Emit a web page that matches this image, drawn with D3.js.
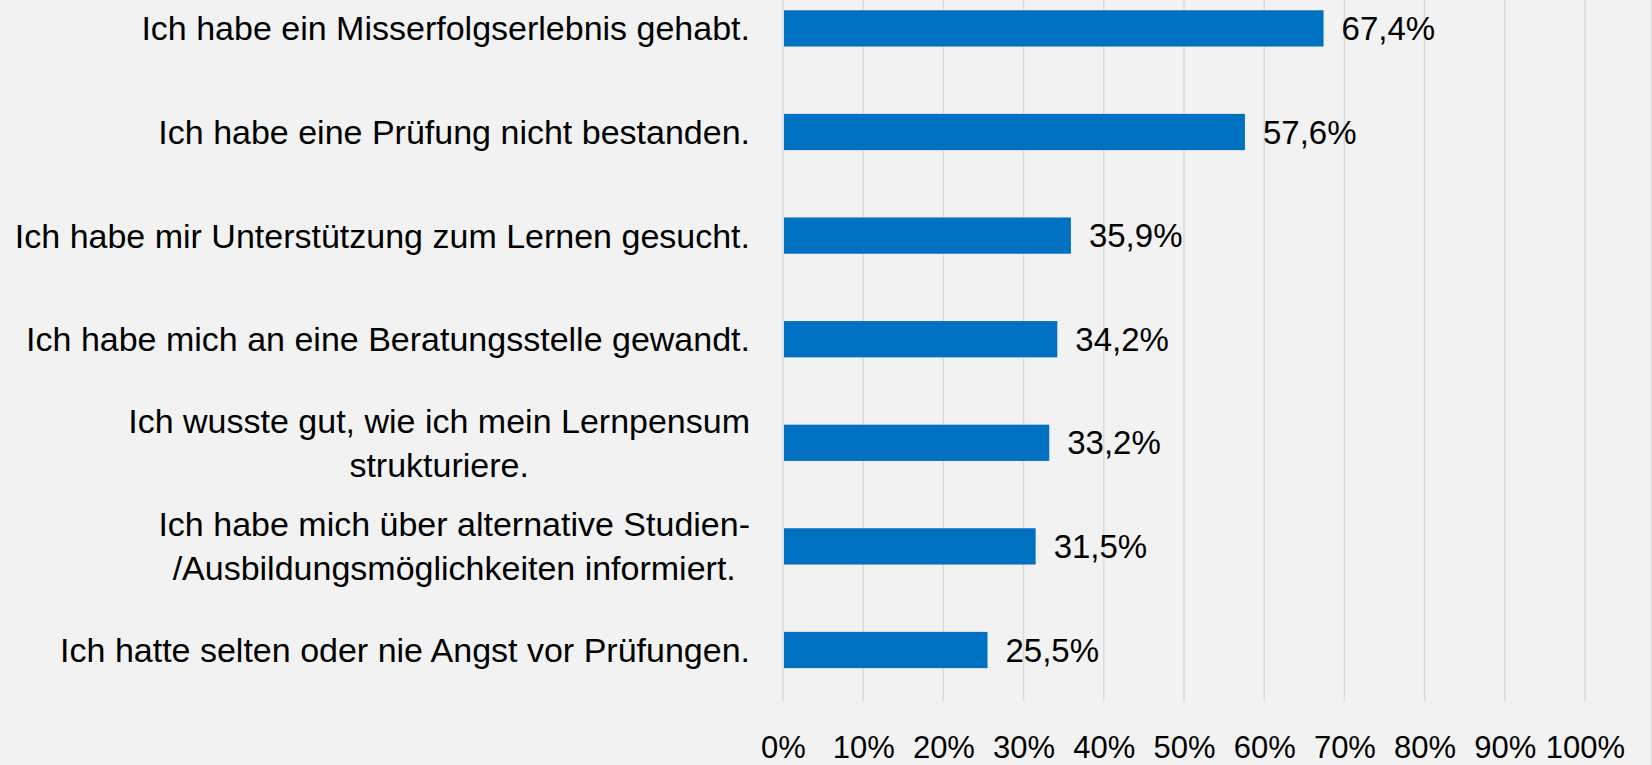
<!DOCTYPE html>
<html>
<head>
<meta charset="utf-8">
<script src="https://cdn.jsdelivr.net/npm/d3@7"></script>
<style>
  html, body { margin: 0; padding: 0; background: #f2f2f2; }
  svg { display: block; }
  text { font-family: "Liberation Sans", Arial, sans-serif; fill: #000; }
</style>
</head>
<body>
<svg id="chart" width="1652" height="765"></svg>
<script>
// Kategorien (Zeilenumbrüche wie im Original)
const categories = [
    ['Ich habe ein Misserfolgserlebnis gehabt.'],
    ['Ich habe eine Prüfung nicht bestanden.'],
    ['Ich habe mir Unterstützung zum Lernen gesucht.'],
    ['Ich habe mich an eine Beratungsstelle gewandt.'],
    ['Ich wusste gut, wie ich mein Lernpensum', 'strukturiere.'],
    ['Ich habe mich über alternative Studien-', '/Ausbildungsmöglichkeiten informiert.'],
    ['Ich hatte selten oder nie Angst vor Prüfungen.']
];
const values = [67.4, 57.6, 35.9, 34.2, 33.2, 31.5, 25.5];
const tickValues = [0, 10, 20, 30, 40, 50, 60, 70, 80, 90, 100];

const svg = d3.select('#chart');
const width = 1652;
const height = 765;

const x = d3.scaleLinear().domain([0, 100]).range([783, 1585]);
const y = d3.scaleBand()
    .domain(d3.range(categories.length))
    .range([-23.4, 701.8])
    .paddingInner(0.65)
    .paddingOuter(0.325);

const de = d3.formatLocale({ decimal: ',', thousands: '.', grouping: [3], currency: ['', ' €'] });
const fmt = de.format('.1f');

// Gitterlinien
svg.append('g')
    .selectAll('line')
    .data(tickValues)
    .enter().append('line')
    .attr('x1', d => x(d)).attr('x2', d => x(d))
    .attr('y1', 0).attr('y2', 701)
    .attr('stroke', '#d9d9d9')
    .attr('stroke-width', 1.5);

// rechter Rand
svg.append('line')
    .attr('x1', width - 0.5).attr('x2', width - 0.5)
    .attr('y1', 0).attr('y2', height)
    .attr('stroke', '#d9d9d9');

// Balken
svg.append('g')
    .selectAll('rect')
    .data(values)
    .enter().append('rect')
    .attr('x', x(0) + 1)
    .attr('y', (d, i) => y(i))
    .attr('width', d => x(d) - x(0) - 1)
    .attr('height', y.bandwidth())
    .attr('fill', '#0070c0');

// Werte
svg.append('g')
    .selectAll('text')
    .data(values)
    .enter().append('text')
    .attr('x', d => x(d) + 18)
    .attr('y', (d, i) => y(i) + y.bandwidth() / 2)
    .attr('dy', '0.35em')
    .attr('font-size', 33)
    .text(d => fmt(d) + '%');

// Kategorien, rechtsbündig, mehrzeilig zentriert
const labelRight = 750;
const lineHeight = 44;
const labels = svg.append('g')
    .selectAll('text')
    .data(categories)
    .enter().append('text')
    .attr('font-size', 34)
    .attr('text-anchor', 'middle');

labels.each(function (lines, i) {
    const t = d3.select(this);
    const cy = y(i) + y.bandwidth() / 2;
    const spans = lines.map((line, k) => t.append('tspan')
        .attr('y', cy + (k - (lines.length - 1) / 2) * lineHeight)
        .attr('dy', '0.35em')
        .text(line));
    const maxW = d3.max(spans, s => s.node().getComputedTextLength());
    spans.forEach(s => s.attr('x', labelRight - maxW / 2));
});

// x-Achse
const axis = svg.append('g')
    .attr('transform', 'translate(0,701)')
    .call(d3.axisBottom(x).tickValues(tickValues).tickSize(0).tickFormat(d => d + '%'));
axis.select('.domain').remove();
axis.selectAll('text')
    .attr('y', 46)
    .attr('dy', '0.35em')
    .attr('font-size', 31)
    .attr('font-family', '"Liberation Sans", Arial, sans-serif')
    .attr('fill', '#000');
</script>
</body>
</html>
